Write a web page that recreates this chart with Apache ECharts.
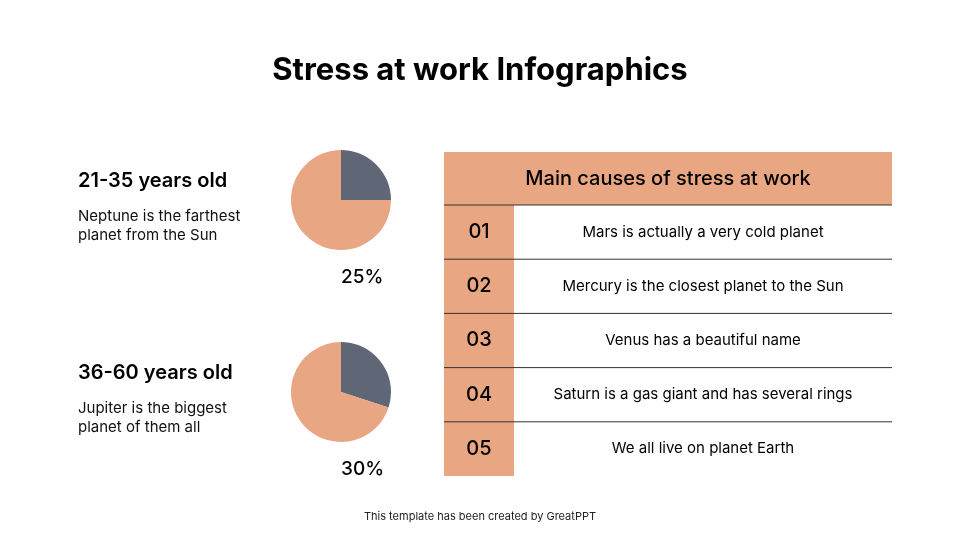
<!DOCTYPE html>
<html><head><meta charset="utf-8">
<script src="https://cdn.jsdelivr.net/npm/echarts@6/dist/echarts.min.js"></script>
<style>html,body{margin:0;padding:0;background:#fff}#c{width:960px;height:540px}</style>
</head><body><div id="c"></div>
<script>
const groups = ['21-35 years old','36-60 years old'];
const groupDesc = [['Neptune is the farthest','planet from the Sun'],['Jupiter is the biggest','planet of them all']];
const shares = [25, 30];
const causeNums = ['01','02','03','04','05'];
const causes = ['Mars is actually a very cold planet','Mercury is the closest planet to the Sun','Venus has a beautiful name','Saturn is a gas giant and has several rings','We all live on planet Earth'];
const ORANGE='#E8A683', GRAY='#5F6675', F='Inter, "Open Sans", sans-serif';
const chart = echarts.init(document.getElementById('c'));
const g = [];
g.push({type:'text',left:'center',top:55,style:{text:'Stress at work Infographics',font:'bold 31px '+F,fill:'#000'}});
g.push({type:'text',left:'center',top:511,style:{text:'This template has been created by GreatPPT',font:'11px '+F,fill:'#222'}});
groups.forEach((t,i)=>{
  const y0=i*192;
  g.push({type:'text',left:78,top:171+y0,style:{text:t,font:'600 20px '+F,fill:'#000'}});
  g.push({type:'text',left:78,top:207+y0,style:{text:groupDesc[i].join('\n'),font:'15px '+F,fill:'#111',lineHeight:19}});
  g.push({type:'text',left:341,top:268+y0,style:{text:shares[i]+'%',font:'500 19px '+F,fill:'#000',align:'center'}});
});
const tx=444, tw=448;
g.push({type:'rect',shape:{x:tx,y:152,width:tw,height:53},style:{fill:ORANGE}});
g.push({type:'text',x:tx+tw/2,y:179,style:{text:'Main causes of stress at work',font:'500 20px '+F,fill:'#000',align:'center',verticalAlign:'middle'}});
g.push({type:'rect',shape:{x:tx,y:205,width:70,height:271},style:{fill:ORANGE}});
causes.forEach((c,i)=>{
  const y=205+i*54.2;
  g.push({type:'line',shape:{x1:tx,y1:y,x2:tx+tw,y2:y},style:{stroke:'#333',lineWidth:1}});
  g.push({type:'text',x:tx+35,y:y+27,style:{text:causeNums[i],font:'500 20px '+F,fill:'#000',align:'center',verticalAlign:'middle'}});
  g.push({type:'text',x:703,y:y+27,style:{text:c,font:'15px '+F,fill:'#000',align:'center',verticalAlign:'middle'}});
});
chart.setOption({
  animation:false,
  graphic:g,
  series:shares.map((s,i)=>({type:'pie',center:[341,200+i*192],radius:[0,50],startAngle:90,clockwise:true,
    label:{show:false},labelLine:{show:false},silent:true,
    data:[{value:s,itemStyle:{color:GRAY}},{value:100-s,itemStyle:{color:ORANGE}}]}))
});
</script></body></html>
